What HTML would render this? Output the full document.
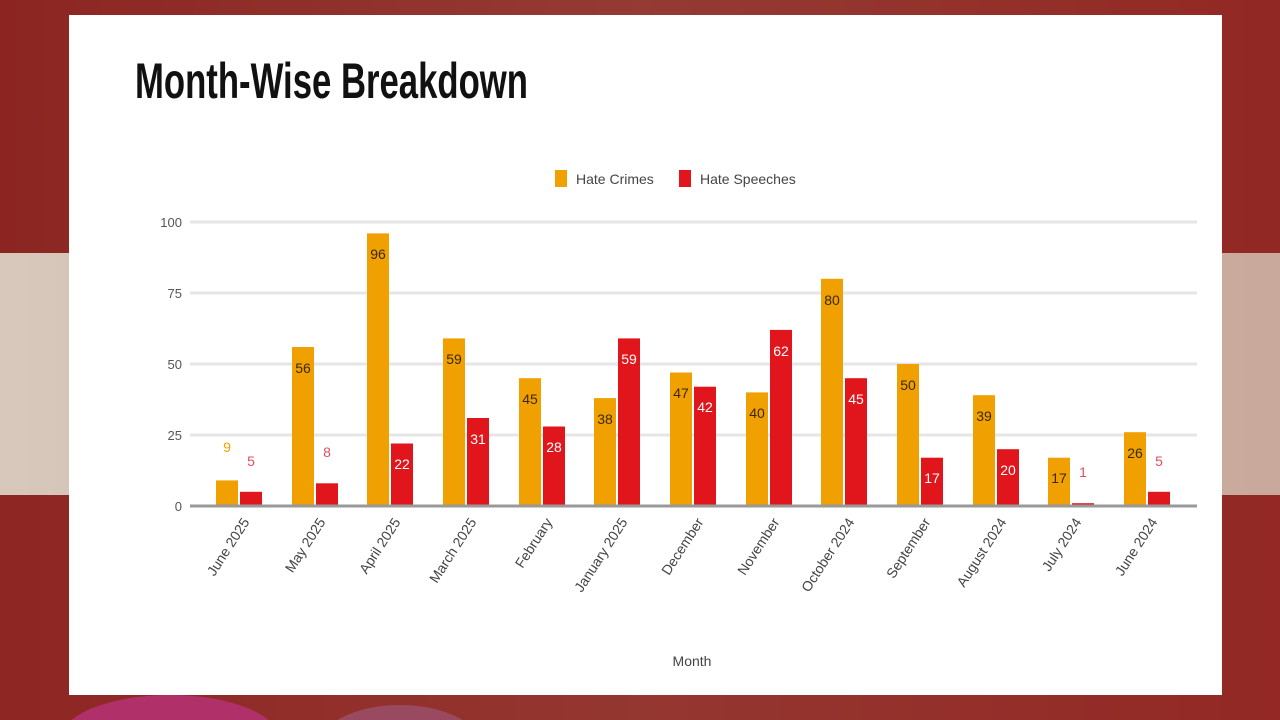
<!DOCTYPE html>
<html><head><meta charset="utf-8"><style>
html,body{margin:0;padding:0;width:1280px;height:720px;overflow:hidden;background:#7a1e1c;}
svg{display:block}
</style></head><body>
<svg width="1280" height="720" xmlns="http://www.w3.org/2000/svg" font-family="Liberation Sans, sans-serif">
<defs>
<linearGradient id="bg" x1="0" y1="0" x2="1" y2="0">
<stop offset="0" stop-color="#8a2422"/><stop offset="0.5" stop-color="#a05a50"/><stop offset="1" stop-color="#9a2a26"/></linearGradient>
<linearGradient id="band" x1="0" y1="0" x2="1" y2="0">
<stop offset="0" stop-color="#d8c8bc"/><stop offset="0.5" stop-color="#c8b0a4"/><stop offset="1" stop-color="#c9a99c"/></linearGradient>
</defs>
<rect width="1280" height="720" fill="url(#bg)"/>
<rect x="0" y="0" width="1280" height="253" fill="#8e2622" opacity="0.6"/>
<rect x="0" y="253" width="1280" height="242" fill="url(#band)"/>
<rect x="0" y="495" width="1280" height="225" fill="#902824" opacity="0.7"/>
<ellipse cx="170" cy="740" rx="110" ry="45" fill="#b0306a"/>
<ellipse cx="400" cy="745" rx="80" ry="40" fill="#9a4a60"/>
<rect x="69" y="15" width="1153" height="680" fill="#fff"/>
<text x="135" y="98" font-family="Liberation Sans Narrow, Liberation Sans, sans-serif" font-weight="bold" font-size="50" fill="#111" textLength="393" lengthAdjust="spacingAndGlyphs">Month-Wise Breakdown</text>
<rect x="555" y="170" width="12" height="17" fill="#f0a000"/>
<text x="576" y="184" font-size="14" fill="#444">Hate Crimes</text>
<rect x="679" y="170" width="12" height="17" fill="#e0161c"/>
<text x="700" y="184" font-size="14" fill="#444">Hate Speeches</text>
<g stroke="#e6e6e6" stroke-width="3">
<line x1="190" y1="222" x2="1197" y2="222"/><line x1="190" y1="293" x2="1197" y2="293"/>
<line x1="190" y1="364" x2="1197" y2="364"/><line x1="190" y1="435" x2="1197" y2="435"/>
</g>
<g font-size="13" fill="#555" text-anchor="end">
<text x="182" y="227">100</text><text x="182" y="298">75</text><text x="182" y="369">50</text><text x="182" y="440">25</text><text x="182" y="511">0</text>
</g>
<g fill="#f0a000">
<rect x="216" y="480.4" width="22" height="25.6"/>
<rect x="292" y="347" width="22" height="159"/>
<rect x="367" y="233.4" width="22" height="272.6"/>
<rect x="443" y="338.4" width="22" height="167.6"/>
<rect x="519" y="378.2" width="22" height="127.8"/>
<rect x="594" y="398.1" width="22" height="107.9"/>
<rect x="670" y="372.5" width="22" height="133.5"/>
<rect x="746" y="392.4" width="22" height="113.6"/>
<rect x="821" y="278.8" width="22" height="227.2"/>
<rect x="897" y="364" width="22" height="142"/>
<rect x="973" y="395.2" width="22" height="110.8"/>
<rect x="1048" y="457.7" width="22" height="48.3"/>
<rect x="1124" y="432.2" width="22" height="73.8"/>
</g>
<g fill="#e0161c">
<rect x="240" y="491.8" width="22" height="14.2"/>
<rect x="316" y="483.3" width="22" height="22.7"/>
<rect x="391" y="443.5" width="22" height="62.5"/>
<rect x="467" y="418" width="22" height="88"/>
<rect x="543" y="426.5" width="22" height="79.5"/>
<rect x="618" y="338.4" width="22" height="167.6"/>
<rect x="694" y="386.7" width="22" height="119.3"/>
<rect x="770" y="329.9" width="22" height="176.1"/>
<rect x="845" y="378.2" width="22" height="127.8"/>
<rect x="921" y="457.7" width="22" height="48.3"/>
<rect x="997" y="449.2" width="22" height="56.8"/>
<rect x="1072" y="503.2" width="22" height="2.8"/>
<rect x="1148" y="491.8" width="22" height="14.2"/>
</g>
<g font-size="14" text-anchor="middle" fill="#3a2a00">
<text x="227" y="452" fill="#f0a000">9</text>
<text x="303" y="373">56</text>
<text x="378" y="259">96</text>
<text x="454" y="364">59</text>
<text x="530" y="404">45</text>
<text x="605" y="424">38</text>
<text x="681" y="398">47</text>
<text x="757" y="418">40</text>
<text x="832" y="305">80</text>
<text x="908" y="390">50</text>
<text x="984" y="421">39</text>
<text x="1059" y="483">17</text>
<text x="1135" y="458">26</text>
</g>
<g font-size="14" text-anchor="middle" fill="#fff">
<text x="251" y="466" fill="#e05060">5</text>
<text x="327" y="457" fill="#e05060">8</text>
<text x="402" y="469">22</text>
<text x="478" y="444">31</text>
<text x="554" y="452">28</text>
<text x="629" y="364">59</text>
<text x="705" y="412">42</text>
<text x="781" y="356">62</text>
<text x="856" y="404">45</text>
<text x="932" y="483">17</text>
<text x="1008" y="475">20</text>
<text x="1083" y="477" fill="#e05060">1</text>
<text x="1159" y="466" fill="#e05060">5</text>
</g>
<g font-size="14" fill="#444" text-anchor="end">
<text transform="translate(250,522) rotate(-57)">June 2025</text>
<text transform="translate(326,522) rotate(-57)">May 2025</text>
<text transform="translate(401,522) rotate(-57)">April 2025</text>
<text transform="translate(477,522) rotate(-57)">March 2025</text>
<text transform="translate(553,522) rotate(-57)">February</text>
<text transform="translate(628,522) rotate(-57)">January 2025</text>
<text transform="translate(704,522) rotate(-57)">December</text>
<text transform="translate(780,522) rotate(-57)">November</text>
<text transform="translate(855,522) rotate(-57)">October 2024</text>
<text transform="translate(931,522) rotate(-57)">September</text>
<text transform="translate(1007,522) rotate(-57)">August 2024</text>
<text transform="translate(1082,522) rotate(-57)">July 2024</text>
<text transform="translate(1158,522) rotate(-57)">June 2024</text>
</g>
<line x1="190" y1="506" x2="1197" y2="506" stroke="#999" stroke-width="3"/>
<text x="692" y="666" font-size="14" fill="#444" text-anchor="middle">Month</text>
</svg>
</body></html>
